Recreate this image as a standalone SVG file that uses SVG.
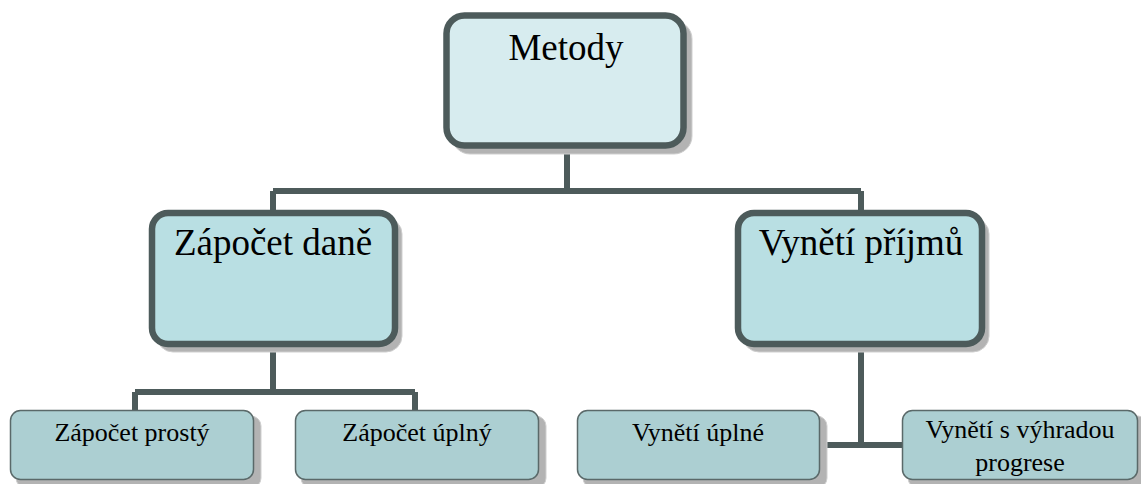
<svg xmlns="http://www.w3.org/2000/svg" width="1141" height="484" viewBox="0 0 1141 484">
<style>
.shadow{fill:#b3b3b3;stroke:#cfcfcf;stroke-width:1}
.big{stroke:#4d5b5b;stroke-width:6.5}
.l1{fill:#d7ecef}
.l2{fill:#b9dfe3}
.small{fill:#accfd2;stroke:#5a6969;stroke-width:1.5}
.conn{stroke:#4d5b5b;stroke-width:6;fill:none}
text{font-family:"Liberation Serif","Times New Roman",serif;fill:#000;text-anchor:middle}
.t1{font-size:37px}
.t2{font-size:26px}
</style>
<rect width="1141" height="484" fill="#fff"/>
<g id="connectors">
<path class="conn" d="M567 149V191M273 191H861M273 191V210M861 191V210"/>
<path class="conn" d="M273 347V392M135 392H415M135 392V410M415 392V410"/>
<path class="conn" d="M861 347V445M820 445H902"/>
</g>
<g id="metody">
<rect class="shadow" x="452" y="21" width="240" height="133" rx="18"/>
<rect class="big l1" x="446.5" y="15.5" width="237" height="130" rx="18"/>
<text class="t1" x="566" y="60">Metody</text>
</g>
<g id="zapocet-dane">
<rect class="shadow" x="157" y="218" width="245" height="134" rx="16"/>
<rect class="big l2" x="152" y="213" width="243" height="131" rx="16"/>
<text class="t1" x="273" y="255">Zápočet daně</text>
</g>
<g id="vyneti-prijmu">
<rect class="shadow" x="743" y="218" width="246" height="134" rx="16"/>
<rect class="big l2" x="738" y="213" width="244" height="131" rx="16"/>
<text class="t1" x="861" y="255">Vynětí příjmů</text>
</g>
<g id="zapocet-prosty">
<rect class="shadow" x="16" y="416" width="245" height="72" rx="10"/>
<rect class="small" x="10.5" y="410.5" width="243" height="69" rx="10"/>
<text class="t2" x="132" y="441">Zápočet prostý</text>
</g>
<g id="zapocet-uplny">
<rect class="shadow" x="301" y="416" width="245" height="72" rx="10"/>
<rect class="small" x="295.5" y="410.5" width="243" height="69" rx="10"/>
<text class="t2" x="417" y="441">Zápočet úplný</text>
</g>
<g id="vyneti-uplne">
<rect class="shadow" x="583" y="416" width="244" height="72" rx="10"/>
<rect class="small" x="577.5" y="410.5" width="242" height="69" rx="10"/>
<text class="t2" x="698" y="441">Vynětí úplné</text>
</g>
<g id="vyneti-s-vyhradou">
<rect class="shadow" x="908" y="416" width="240" height="72" rx="10"/>
<rect class="small" x="902.5" y="410.5" width="235" height="69" rx="10"/>
<text class="t2" x="1020" y="438">Vynětí s výhradou</text>
<text class="t2" x="1020" y="471">progrese</text>
</g>
</svg>
